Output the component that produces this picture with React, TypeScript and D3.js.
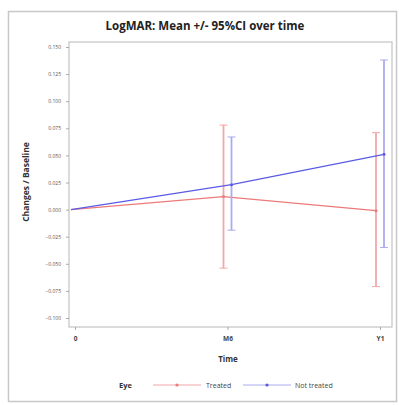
import { useEffect, useRef } from "react";
import * as d3 from "d3";

const timepoints = ["0", "M6", "Y1"];
const yTicks = [0.15, 0.125, 0.1, 0.075, 0.05, 0.025, 0, -0.025, -0.05, -0.075, -0.1];

const treatedMean = [0, 0.012, -0.001];
const treatedLow = [0, -0.054, -0.071];
const treatedHigh = [0, 0.078, 0.071];

const notTreatedMean = [0, 0.023, 0.051];
const notTreatedLow = [0, -0.019, -0.035];
const notTreatedHigh = [0, 0.067, 0.138];

const series = [
  { name: "Treated", mean: treatedMean, low: treatedLow, high: treatedHigh, color: "#ec7a78", bar: "#f3a8a8", shift: -4 },
  { name: "Not treated", mean: notTreatedMean, low: notTreatedLow, high: notTreatedHigh, color: "#5a5ae6", bar: "#ababef", shift: 4 },
];

export default function App() {
  const ref = useRef<SVGSVGElement>(null);

  useEffect(() => {
    const svg = d3.select(ref.current);
    svg.selectAll("*").remove();
    const font = "'Open Sans', 'Liberation Sans', sans-serif";

    // outer frame
    svg.append("rect").attr("x", 8.5).attr("y", 11.5).attr("width", 388).attr("height", 390)
      .attr("fill", "white").attr("stroke", "#c8c8c8").attr("stroke-width", 1.5);

    svg.append("text").attr("x", 205).attr("y", 30).attr("text-anchor", "middle")
      .attr("font-family", font).attr("font-weight", "bold").attr("font-size", 11.5)
      .attr("fill", "#222").text("LogMAR: Mean +/- 95%CI over time");

    const plot = { left: 69, right: 392, top: 42, bottom: 327 };
    const x = d3.scalePoint<string>().domain(timepoints).range([75, 380]);
    const y = d3.scaleLinear().domain([-0.1, 0.15]).range([318, 47]);

    svg.append("rect").attr("x", plot.left).attr("y", plot.top)
      .attr("width", plot.right - plot.left).attr("height", plot.bottom - plot.top)
      .attr("fill", "white").attr("stroke", "#c4c4c4").attr("stroke-width", 1.2);

    const yAxis = svg.append("g").attr("transform", `translate(${plot.left},0)`)
      .call(d3.axisLeft(y).tickValues(yTicks).tickFormat(d3.format(".3f")).tickSize(3).tickPadding(5));
    yAxis.select(".domain").remove();
    yAxis.selectAll("line").attr("stroke", "#aaa");
    yAxis.selectAll("text").attr("font-family", font).attr("font-size", 5).attr("fill", "#555");

    const xAxis = svg.append("g").attr("transform", `translate(0,${plot.bottom})`)
      .call(d3.axisBottom(x).tickSize(3).tickPadding(6));
    xAxis.select(".domain").remove();
    xAxis.selectAll("line").attr("stroke", "#aaa");
    xAxis.selectAll("text").attr("font-family", font).attr("font-size", 6.5)
      .attr("font-weight", "bold").attr("fill", "#444");

    svg.append("text").attr("x", 228).attr("y", 362).attr("text-anchor", "middle")
      .attr("font-family", font).attr("font-weight", "bold").attr("font-size", 8)
      .attr("fill", "#333").text("Time");

    svg.append("text").attr("transform", "translate(29,182) rotate(-90)").attr("text-anchor", "middle")
      .attr("font-family", font).attr("font-weight", "bold").attr("font-size", 8.5)
      .attr("fill", "#333").text("Changes / Baseline");

    series.forEach(s => {
      const g = svg.append("g");
      const line = d3.line<number>()
        .x((_, i) => x(timepoints[i])! + (i === 0 ? -4 : s.shift))
        .y(d => y(d));
      g.append("path").datum(s.mean).attr("fill", "none")
        .attr("stroke", s.color).attr("stroke-width", 1.2).attr("d", line);
      timepoints.forEach((t, i) => {
        if (s.high[i] === s.low[i]) return;
        const cx = x(t)! + s.shift;
        g.append("line").attr("x1", cx).attr("x2", cx).attr("y1", y(s.high[i])).attr("y2", y(s.low[i]))
          .attr("stroke", s.bar).attr("stroke-width", 1.8);
        [s.high[i], s.low[i]].forEach(v => {
          g.append("line").attr("x1", cx - 4).attr("x2", cx + 4).attr("y1", y(v)).attr("y2", y(v))
            .attr("stroke", s.bar).attr("stroke-width", 1);
        });
        g.append("circle").attr("cx", cx).attr("cy", y(s.mean[i])).attr("r", 1.5).attr("fill", s.color);
      });
    });

    // legend
    const ly = 385;
    svg.append("text").attr("x", 119).attr("y", ly + 2.5).attr("font-family", font)
      .attr("font-weight", "bold").attr("font-size", 7.5).attr("fill", "#333").text("Eye");
    const items = [
      { s: series[0], x0: 153, tx: 206 },
      { s: series[1], x0: 243, tx: 295 },
    ];
    items.forEach(({ s, x0, tx }) => {
      svg.append("line").attr("x1", x0).attr("x2", x0 + 48).attr("y1", ly).attr("y2", ly)
        .attr("stroke", s.bar).attr("stroke-width", 1.2);
      svg.append("circle").attr("cx", x0 + 24).attr("cy", ly).attr("r", 1.6).attr("fill", s.color);
      svg.append("text").attr("x", tx).attr("y", ly + 2.5).attr("font-family", font)
        .attr("font-size", 7).attr("fill", "#444").text(s.name);
    });
  }, []);

  return (
    <div style={{ position: "absolute", left: 0, top: 0 }}>
      <svg ref={ref} width={399} height={405} style={{ display: "block" }} />
    </div>
  );
}
